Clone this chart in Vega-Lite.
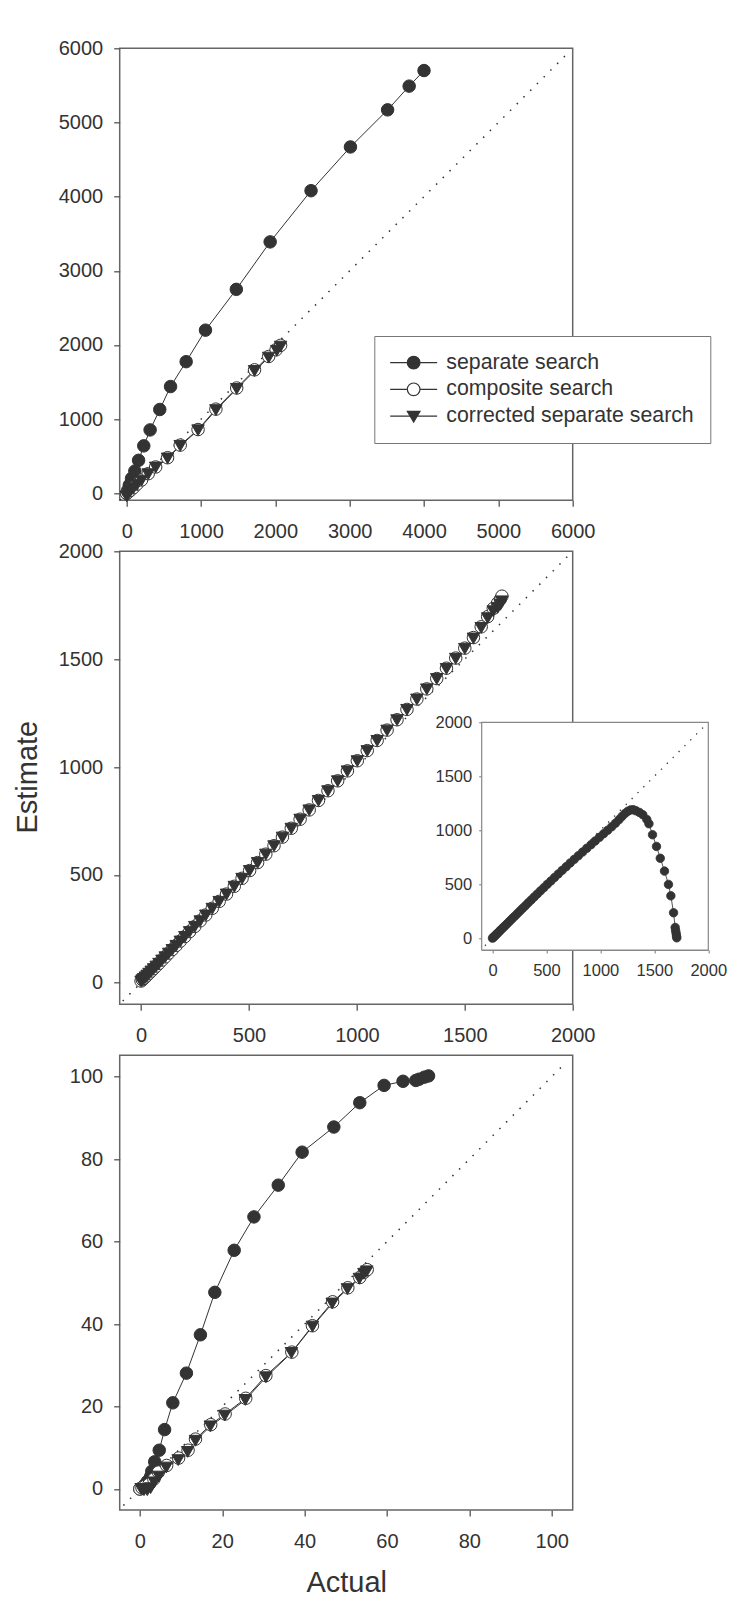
{
  "$schema": "https://vega.github.io/schema/vega-lite/v6.json",
  "autosize": {"type": "none"},
  "padding": {"left": 119.7, "top": 48.3, "right": 630.3, "bottom": 1561.7},
  "bounds": "flush",
  "spacing": 51,
  "datasets": {
    "fps": [
      {"series": "separate search", "actual": 0, "estimate": 0},
      {"series": "separate search", "actual": 15, "estimate": 40},
      {"series": "separate search", "actual": 35, "estimate": 110},
      {"series": "separate search", "actual": 65, "estimate": 200},
      {"series": "separate search", "actual": 110, "estimate": 300},
      {"series": "separate search", "actual": 160, "estimate": 445},
      {"series": "separate search", "actual": 230, "estimate": 640},
      {"series": "separate search", "actual": 315, "estimate": 855},
      {"series": "separate search", "actual": 445, "estimate": 1130},
      {"series": "separate search", "actual": 590, "estimate": 1440},
      {"series": "separate search", "actual": 800, "estimate": 1775},
      {"series": "separate search", "actual": 1060, "estimate": 2200},
      {"series": "separate search", "actual": 1475, "estimate": 2750},
      {"series": "separate search", "actual": 1930, "estimate": 3390},
      {"series": "separate search", "actual": 2480, "estimate": 4080},
      {"series": "separate search", "actual": 3010, "estimate": 4670},
      {"series": "separate search", "actual": 3510, "estimate": 5170},
      {"series": "separate search", "actual": 3800, "estimate": 5490},
      {"series": "separate search", "actual": 4000, "estimate": 5700},
      {"series": "composite search", "actual": 0, "estimate": 0},
      {"series": "composite search", "actual": 20, "estimate": 15},
      {"series": "composite search", "actual": 50, "estimate": 40},
      {"series": "composite search", "actual": 90, "estimate": 75},
      {"series": "composite search", "actual": 140, "estimate": 125},
      {"series": "composite search", "actual": 200, "estimate": 180},
      {"series": "composite search", "actual": 290, "estimate": 265},
      {"series": "composite search", "actual": 390, "estimate": 355},
      {"series": "composite search", "actual": 550, "estimate": 480},
      {"series": "composite search", "actual": 720, "estimate": 650},
      {"series": "composite search", "actual": 960, "estimate": 860},
      {"series": "composite search", "actual": 1200, "estimate": 1135},
      {"series": "composite search", "actual": 1480, "estimate": 1420},
      {"series": "composite search", "actual": 1720, "estimate": 1665},
      {"series": "composite search", "actual": 1910, "estimate": 1845},
      {"series": "composite search", "actual": 2010, "estimate": 1935},
      {"series": "composite search", "actual": 2070, "estimate": 1995},
      {"series": "corrected separate search", "actual": 0, "estimate": -40},
      {"series": "corrected separate search", "actual": 20, "estimate": 0},
      {"series": "corrected separate search", "actual": 50, "estimate": 30},
      {"series": "corrected separate search", "actual": 90, "estimate": 65},
      {"series": "corrected separate search", "actual": 140, "estimate": 115},
      {"series": "corrected separate search", "actual": 200, "estimate": 172},
      {"series": "corrected separate search", "actual": 290, "estimate": 258},
      {"series": "corrected separate search", "actual": 390, "estimate": 348},
      {"series": "corrected separate search", "actual": 550, "estimate": 470},
      {"series": "corrected separate search", "actual": 720, "estimate": 640},
      {"series": "corrected separate search", "actual": 960, "estimate": 850},
      {"series": "corrected separate search", "actual": 1200, "estimate": 1122},
      {"series": "corrected separate search", "actual": 1480, "estimate": 1408},
      {"series": "corrected separate search", "actual": 1720, "estimate": 1650},
      {"series": "corrected separate search", "actual": 1910, "estimate": 1830},
      {"series": "corrected separate search", "actual": 2020, "estimate": 1922},
      {"series": "corrected separate search", "actual": 2070, "estimate": 1978}
    ],
    "tps": [
      {"series": "composite search", "actual": 0, "estimate": 8},
      {"series": "composite search", "actual": 6, "estimate": 14},
      {"series": "composite search", "actual": 12, "estimate": 20},
      {"series": "composite search", "actual": 20, "estimate": 27},
      {"series": "composite search", "actual": 28, "estimate": 35},
      {"series": "composite search", "actual": 37, "estimate": 44},
      {"series": "composite search", "actual": 47, "estimate": 54},
      {"series": "composite search", "actual": 58, "estimate": 65},
      {"series": "composite search", "actual": 70, "estimate": 77},
      {"series": "composite search", "actual": 83, "estimate": 90},
      {"series": "composite search", "actual": 97, "estimate": 105},
      {"series": "composite search", "actual": 112, "estimate": 120},
      {"series": "composite search", "actual": 128, "estimate": 137},
      {"series": "composite search", "actual": 145, "estimate": 154},
      {"series": "composite search", "actual": 163, "estimate": 173},
      {"series": "composite search", "actual": 182, "estimate": 193},
      {"series": "composite search", "actual": 203, "estimate": 214},
      {"series": "composite search", "actual": 225, "estimate": 237},
      {"series": "composite search", "actual": 249, "estimate": 261},
      {"series": "composite search", "actual": 274, "estimate": 287},
      {"series": "composite search", "actual": 300, "estimate": 314},
      {"series": "composite search", "actual": 330, "estimate": 345},
      {"series": "composite search", "actual": 362, "estimate": 377},
      {"series": "composite search", "actual": 396, "estimate": 411},
      {"series": "composite search", "actual": 432, "estimate": 447},
      {"series": "composite search", "actual": 468, "estimate": 484},
      {"series": "composite search", "actual": 503, "estimate": 520},
      {"series": "composite search", "actual": 540, "estimate": 557},
      {"series": "composite search", "actual": 578, "estimate": 596},
      {"series": "composite search", "actual": 616, "estimate": 635},
      {"series": "composite search", "actual": 655, "estimate": 675},
      {"series": "composite search", "actual": 696, "estimate": 716},
      {"series": "composite search", "actual": 737, "estimate": 758},
      {"series": "composite search", "actual": 779, "estimate": 801},
      {"series": "composite search", "actual": 822, "estimate": 845},
      {"series": "composite search", "actual": 866, "estimate": 890},
      {"series": "composite search", "actual": 911, "estimate": 936},
      {"series": "composite search", "actual": 956, "estimate": 982},
      {"series": "composite search", "actual": 1002, "estimate": 1029},
      {"series": "composite search", "actual": 1048, "estimate": 1076},
      {"series": "composite search", "actual": 1094, "estimate": 1123},
      {"series": "composite search", "actual": 1140, "estimate": 1171},
      {"series": "composite search", "actual": 1186, "estimate": 1219},
      {"series": "composite search", "actual": 1232, "estimate": 1267},
      {"series": "composite search", "actual": 1278, "estimate": 1315},
      {"series": "composite search", "actual": 1324, "estimate": 1362},
      {"series": "composite search", "actual": 1370, "estimate": 1410},
      {"series": "composite search", "actual": 1415, "estimate": 1458},
      {"series": "composite search", "actual": 1458, "estimate": 1505},
      {"series": "composite search", "actual": 1500, "estimate": 1551},
      {"series": "composite search", "actual": 1540, "estimate": 1600},
      {"series": "composite search", "actual": 1576, "estimate": 1650},
      {"series": "composite search", "actual": 1606, "estimate": 1697},
      {"series": "composite search", "actual": 1632, "estimate": 1735},
      {"series": "composite search", "actual": 1652, "estimate": 1760},
      {"series": "composite search", "actual": 1665, "estimate": 1778},
      {"series": "composite search", "actual": 1672, "estimate": 1792},
      {"series": "corrected separate search", "actual": 0, "estimate": 6},
      {"series": "corrected separate search", "actual": 6, "estimate": 12},
      {"series": "corrected separate search", "actual": 12, "estimate": 18},
      {"series": "corrected separate search", "actual": 20, "estimate": 25},
      {"series": "corrected separate search", "actual": 28, "estimate": 33},
      {"series": "corrected separate search", "actual": 37, "estimate": 42},
      {"series": "corrected separate search", "actual": 47, "estimate": 52},
      {"series": "corrected separate search", "actual": 58, "estimate": 63},
      {"series": "corrected separate search", "actual": 70, "estimate": 75},
      {"series": "corrected separate search", "actual": 83, "estimate": 88},
      {"series": "corrected separate search", "actual": 97, "estimate": 103},
      {"series": "corrected separate search", "actual": 112, "estimate": 118},
      {"series": "corrected separate search", "actual": 128, "estimate": 135},
      {"series": "corrected separate search", "actual": 145, "estimate": 152},
      {"series": "corrected separate search", "actual": 163, "estimate": 171},
      {"series": "corrected separate search", "actual": 182, "estimate": 191},
      {"series": "corrected separate search", "actual": 203, "estimate": 212},
      {"series": "corrected separate search", "actual": 225, "estimate": 235},
      {"series": "corrected separate search", "actual": 249, "estimate": 259},
      {"series": "corrected separate search", "actual": 274, "estimate": 285},
      {"series": "corrected separate search", "actual": 300, "estimate": 312},
      {"series": "corrected separate search", "actual": 330, "estimate": 343},
      {"series": "corrected separate search", "actual": 362, "estimate": 375},
      {"series": "corrected separate search", "actual": 396, "estimate": 409},
      {"series": "corrected separate search", "actual": 432, "estimate": 445},
      {"series": "corrected separate search", "actual": 468, "estimate": 482},
      {"series": "corrected separate search", "actual": 503, "estimate": 518},
      {"series": "corrected separate search", "actual": 540, "estimate": 555},
      {"series": "corrected separate search", "actual": 578, "estimate": 594},
      {"series": "corrected separate search", "actual": 616, "estimate": 633},
      {"series": "corrected separate search", "actual": 655, "estimate": 673},
      {"series": "corrected separate search", "actual": 696, "estimate": 714},
      {"series": "corrected separate search", "actual": 737, "estimate": 756},
      {"series": "corrected separate search", "actual": 779, "estimate": 799},
      {"series": "corrected separate search", "actual": 822, "estimate": 843},
      {"series": "corrected separate search", "actual": 866, "estimate": 888},
      {"series": "corrected separate search", "actual": 911, "estimate": 934},
      {"series": "corrected separate search", "actual": 956, "estimate": 980},
      {"series": "corrected separate search", "actual": 1002, "estimate": 1027},
      {"series": "corrected separate search", "actual": 1048, "estimate": 1074},
      {"series": "corrected separate search", "actual": 1094, "estimate": 1121},
      {"series": "corrected separate search", "actual": 1140, "estimate": 1169},
      {"series": "corrected separate search", "actual": 1186, "estimate": 1217},
      {"series": "corrected separate search", "actual": 1232, "estimate": 1265},
      {"series": "corrected separate search", "actual": 1278, "estimate": 1313},
      {"series": "corrected separate search", "actual": 1324, "estimate": 1360},
      {"series": "corrected separate search", "actual": 1370, "estimate": 1408},
      {"series": "corrected separate search", "actual": 1415, "estimate": 1455},
      {"series": "corrected separate search", "actual": 1458, "estimate": 1502},
      {"series": "corrected separate search", "actual": 1500, "estimate": 1548},
      {"series": "corrected separate search", "actual": 1540, "estimate": 1596},
      {"series": "corrected separate search", "actual": 1576, "estimate": 1645},
      {"series": "corrected separate search", "actual": 1606, "estimate": 1690},
      {"series": "corrected separate search", "actual": 1632, "estimate": 1722},
      {"series": "corrected separate search", "actual": 1652, "estimate": 1738},
      {"series": "corrected separate search", "actual": 1665, "estimate": 1752},
      {"series": "corrected separate search", "actual": 1672, "estimate": 1768}
    ],
    "tpsInset": [
      {"series": "separate search", "actual": 0, "estimate": 0},
      {"series": "separate search", "actual": 8, "estimate": 8},
      {"series": "separate search", "actual": 16, "estimate": 15},
      {"series": "separate search", "actual": 25, "estimate": 24},
      {"series": "separate search", "actual": 35, "estimate": 34},
      {"series": "separate search", "actual": 46, "estimate": 45},
      {"series": "separate search", "actual": 58, "estimate": 57},
      {"series": "separate search", "actual": 71, "estimate": 70},
      {"series": "separate search", "actual": 85, "estimate": 84},
      {"series": "separate search", "actual": 100, "estimate": 99},
      {"series": "separate search", "actual": 116, "estimate": 114},
      {"series": "separate search", "actual": 133, "estimate": 131},
      {"series": "separate search", "actual": 151, "estimate": 149},
      {"series": "separate search", "actual": 170, "estimate": 168},
      {"series": "separate search", "actual": 190, "estimate": 188},
      {"series": "separate search", "actual": 211, "estimate": 208},
      {"series": "separate search", "actual": 233, "estimate": 230},
      {"series": "separate search", "actual": 256, "estimate": 253},
      {"series": "separate search", "actual": 280, "estimate": 277},
      {"series": "separate search", "actual": 305, "estimate": 301},
      {"series": "separate search", "actual": 331, "estimate": 327},
      {"series": "separate search", "actual": 358, "estimate": 353},
      {"series": "separate search", "actual": 386, "estimate": 381},
      {"series": "separate search", "actual": 415, "estimate": 409},
      {"series": "separate search", "actual": 445, "estimate": 438},
      {"series": "separate search", "actual": 476, "estimate": 468},
      {"series": "separate search", "actual": 508, "estimate": 499},
      {"series": "separate search", "actual": 541, "estimate": 530},
      {"series": "separate search", "actual": 575, "estimate": 562},
      {"series": "separate search", "actual": 610, "estimate": 595},
      {"series": "separate search", "actual": 646, "estimate": 628},
      {"series": "separate search", "actual": 683, "estimate": 662},
      {"series": "separate search", "actual": 720, "estimate": 696},
      {"series": "separate search", "actual": 758, "estimate": 730},
      {"series": "separate search", "actual": 796, "estimate": 764},
      {"series": "separate search", "actual": 835, "estimate": 798},
      {"series": "separate search", "actual": 874, "estimate": 832},
      {"series": "separate search", "actual": 913, "estimate": 866},
      {"series": "separate search", "actual": 952, "estimate": 900},
      {"series": "separate search", "actual": 991, "estimate": 934},
      {"series": "separate search", "actual": 1030, "estimate": 967},
      {"series": "separate search", "actual": 1068, "estimate": 1000},
      {"series": "separate search", "actual": 1105, "estimate": 1032},
      {"series": "separate search", "actual": 1140, "estimate": 1065},
      {"series": "separate search", "actual": 1172, "estimate": 1098},
      {"series": "separate search", "actual": 1200, "estimate": 1128},
      {"series": "separate search", "actual": 1228, "estimate": 1155},
      {"series": "separate search", "actual": 1255, "estimate": 1176},
      {"series": "separate search", "actual": 1280, "estimate": 1188},
      {"series": "separate search", "actual": 1305, "estimate": 1190},
      {"series": "separate search", "actual": 1330, "estimate": 1180},
      {"series": "separate search", "actual": 1362, "estimate": 1165},
      {"series": "separate search", "actual": 1393, "estimate": 1144},
      {"series": "separate search", "actual": 1430, "estimate": 1100},
      {"series": "separate search", "actual": 1450, "estimate": 1060},
      {"series": "separate search", "actual": 1483, "estimate": 958},
      {"series": "separate search", "actual": 1520, "estimate": 850},
      {"series": "separate search", "actual": 1555, "estimate": 740},
      {"series": "separate search", "actual": 1594, "estimate": 621},
      {"series": "separate search", "actual": 1631, "estimate": 498},
      {"series": "separate search", "actual": 1653, "estimate": 392},
      {"series": "separate search", "actual": 1678, "estimate": 235},
      {"series": "separate search", "actual": 1693, "estimate": 99},
      {"series": "separate search", "actual": 1697, "estimate": 70},
      {"series": "separate search", "actual": 1702, "estimate": 44},
      {"series": "separate search", "actual": 1705, "estimate": 20},
      {"series": "separate search", "actual": 1708, "estimate": 3}
    ],
    "fdr": [
      {"series": "separate search", "actual": 0, "estimate": 0},
      {"series": "separate search", "actual": 0.6, "estimate": 0.4},
      {"series": "separate search", "actual": 1.2, "estimate": 1.0},
      {"series": "separate search", "actual": 1.8, "estimate": 1.8},
      {"series": "separate search", "actual": 2.6, "estimate": 3.0},
      {"series": "separate search", "actual": 2.9, "estimate": 4.3},
      {"series": "separate search", "actual": 3.6, "estimate": 6.6},
      {"series": "separate search", "actual": 4.7, "estimate": 9.4},
      {"series": "separate search", "actual": 6.0, "estimate": 14.4},
      {"series": "separate search", "actual": 8.0, "estimate": 20.9},
      {"series": "separate search", "actual": 11.3, "estimate": 28.1},
      {"series": "separate search", "actual": 14.7, "estimate": 37.4},
      {"series": "separate search", "actual": 18.2, "estimate": 47.7},
      {"series": "separate search", "actual": 22.9, "estimate": 57.9},
      {"series": "separate search", "actual": 27.7, "estimate": 66.0},
      {"series": "separate search", "actual": 33.6, "estimate": 73.7},
      {"series": "separate search", "actual": 39.4, "estimate": 81.7},
      {"series": "separate search", "actual": 47.1, "estimate": 87.8},
      {"series": "separate search", "actual": 53.4, "estimate": 93.7},
      {"series": "separate search", "actual": 59.3, "estimate": 97.9},
      {"series": "separate search", "actual": 63.9, "estimate": 98.9},
      {"series": "separate search", "actual": 67.0, "estimate": 99.1},
      {"series": "separate search", "actual": 67.8, "estimate": 99.4},
      {"series": "separate search", "actual": 69.1, "estimate": 99.9},
      {"series": "separate search", "actual": 70.1, "estimate": 100.2},
      {"series": "composite search", "actual": 0, "estimate": 0},
      {"series": "composite search", "actual": 0.5, "estimate": 0.3},
      {"series": "composite search", "actual": 1.2, "estimate": 0.6},
      {"series": "composite search", "actual": 2.2, "estimate": 1.1},
      {"series": "composite search", "actual": 3.4, "estimate": 2.4},
      {"series": "composite search", "actual": 4.5, "estimate": 4.1},
      {"series": "composite search", "actual": 6.5, "estimate": 5.7},
      {"series": "composite search", "actual": 9.4, "estimate": 7.5},
      {"series": "composite search", "actual": 11.7, "estimate": 9.4},
      {"series": "composite search", "actual": 13.5, "estimate": 12.1},
      {"series": "composite search", "actual": 17.2, "estimate": 15.6},
      {"series": "composite search", "actual": 20.7, "estimate": 18.2},
      {"series": "composite search", "actual": 25.7, "estimate": 22.0},
      {"series": "composite search", "actual": 30.6, "estimate": 27.5},
      {"series": "composite search", "actual": 36.9, "estimate": 33.2},
      {"series": "composite search", "actual": 41.9, "estimate": 39.6},
      {"series": "composite search", "actual": 46.8, "estimate": 45.4},
      {"series": "composite search", "actual": 50.5, "estimate": 48.8},
      {"series": "composite search", "actual": 53.4, "estimate": 51.3},
      {"series": "composite search", "actual": 54.5, "estimate": 52.6},
      {"series": "composite search", "actual": 55.2, "estimate": 53.2},
      {"series": "corrected separate search", "actual": 0.3, "estimate": 0},
      {"series": "corrected separate search", "actual": 1.0, "estimate": -0.3},
      {"series": "corrected separate search", "actual": 1.8, "estimate": -0.3},
      {"series": "corrected separate search", "actual": 2.6, "estimate": 0.2},
      {"series": "corrected separate search", "actual": 3.5, "estimate": 1.6},
      {"series": "corrected separate search", "actual": 4.6, "estimate": 3.0},
      {"series": "corrected separate search", "actual": 6.4, "estimate": 5.2},
      {"series": "corrected separate search", "actual": 9.3, "estimate": 7.0},
      {"series": "corrected separate search", "actual": 11.6, "estimate": 9.0},
      {"series": "corrected separate search", "actual": 13.5, "estimate": 11.7},
      {"series": "corrected separate search", "actual": 17.1, "estimate": 15.2},
      {"series": "corrected separate search", "actual": 20.6, "estimate": 17.8},
      {"series": "corrected separate search", "actual": 25.6, "estimate": 21.6},
      {"series": "corrected separate search", "actual": 30.6, "estimate": 27.1},
      {"series": "corrected separate search", "actual": 36.8, "estimate": 33.0},
      {"series": "corrected separate search", "actual": 41.9, "estimate": 39.4},
      {"series": "corrected separate search", "actual": 46.7, "estimate": 45.0},
      {"series": "corrected separate search", "actual": 50.4, "estimate": 48.5},
      {"series": "corrected separate search", "actual": 53.3, "estimate": 51.0},
      {"series": "corrected separate search", "actual": 54.4, "estimate": 52.2},
      {"series": "corrected separate search", "actual": 55.1, "estimate": 52.8}
    ],
    "d1": [{"actual": -90, "estimate": -90}, {"actual": 5950, "estimate": 5950}],
    "d2": [{"actual": -85, "estimate": -85}, {"actual": 1975, "estimate": 1975}],
    "d3": [{"actual": -4, "estimate": -4}, {"actual": 103.5, "estimate": 103.5}],
    "dI": [{"actual": -70, "estimate": -70}, {"actual": 1990, "estimate": 1990}]
  },
  "vconcat": [
    {
      "width": 453,
      "height": 452,
      "resolve": {"scale": {"shape": "independent", "fill": "independent", "stroke": "independent"}},
      "encoding": {
        "x": {"field": "actual", "type": "quantitative", "scale": {"domain": [-94, 6000], "nice": false, "zero": false}, "axis": {"values": [0, 1000, 2000, 3000, 4000, 5000, 6000], "format": "d", "title": null, "labelPadding": 15}},
        "y": {"field": "estimate", "type": "quantitative", "scale": {"domain": [-94, 6000], "nice": false, "zero": false}, "axis": {"values": [0, 1000, 2000, 3000, 4000, 5000, 6000], "format": "d", "title": null, "labelPadding": 11}}
      },
      "layer": [
        {"data": {"name": "d1"}, "mark": {"type": "line", "color": "#333", "strokeWidth": 1.5, "strokeDash": [1.5, 8]}},
        {"data": {"name": "fps"}, "mark": {"type": "line", "color": "#333", "strokeWidth": 1}, "encoding": {"detail": {"field": "series"}}},
        {
          "data": {"name": "fps"},
          "mark": {"type": "point", "filled": true, "size": 156, "stroke": "#333", "strokeWidth": 1, "opacity": 1},
          "encoding": {
            "shape": {"field": "series", "type": "nominal", "scale": {"domain": ["separate search", "composite search", "corrected separate search"], "range": ["circle", "circle", "triangle-down"]}, "legend": null},
            "fill": {"field": "series", "type": "nominal", "scale": {"domain": ["separate search", "composite search", "corrected separate search"], "range": ["#333333", "#ffffff", "#333333"]}, "legend": null}
          }
        },
        {
          "data": {"values": []},
          "mark": {"type": "point", "filled": true, "size": 161, "strokeWidth": 1.2, "opacity": 1},
          "encoding": {
            "shape": {"field": "series", "type": "nominal", "scale": {"domain": ["separate search", "composite search", "corrected separate search"], "range": ["M-3.7,0L3.7,0M1,0A1,1,0,1,1,-1,0A1,1,0,1,1,1,0Z", "M-3.7,0L-1,0M1,0L3.7,0M1,0A1,1,0,1,1,-1,0A1,1,0,1,1,1,0Z", "M-3.7,0L3.7,0M-1,-0.75L1,-0.75L0,0.95Z"]},
              "legend": {"title": null, "orient": "none", "legendX": 254.6, "legendY": 287.7, "strokeColor": "#777", "fillColor": "#fff", "padding": 16, "labelFontSize": 21.3, "labelLimit": 400, "labelColor": "#333", "symbolSize": 161, "rowPadding": 4.7, "symbolOffset": 12.7, "labelOffset": 22, "symbolStrokeWidth": 1.2}},
            "fill": {"field": "series", "type": "nominal", "scale": {"domain": ["separate search", "composite search", "corrected separate search"], "range": ["#333333", "#ffffff", "#333333"]},
              "legend": {"title": null, "orient": "none", "legendX": 254.6, "legendY": 287.7, "strokeColor": "#777", "fillColor": "#fff", "padding": 16, "labelFontSize": 21.3, "labelLimit": 400, "labelColor": "#333", "symbolSize": 161, "rowPadding": 4.7, "symbolOffset": 12.7, "labelOffset": 22, "symbolStrokeWidth": 1.2}},
            "stroke": {"field": "series", "type": "nominal", "scale": {"domain": ["separate search", "composite search", "corrected separate search"], "range": ["#333333", "#333333", "#333333"]},
              "legend": {"title": null, "orient": "none", "legendX": 254.6, "legendY": 287.7, "strokeColor": "#777", "fillColor": "#fff", "padding": 16, "labelFontSize": 21.3, "labelLimit": 400, "labelColor": "#333", "symbolSize": 161, "rowPadding": 4.7, "symbolOffset": 12.7, "labelOffset": 22, "symbolStrokeWidth": 1.2}}
          }
        },
        {
          "data": {"values": [{"label": "FPs"}]},
          "mark": {"type": "text", "align": "left", "baseline": "alphabetic", "fontSize": 29, "color": "#333"},
          "encoding": {
            "x": {"datum": 404, "type": "quantitative"},
            "y": {"datum": 5340, "type": "quantitative"},
            "text": {"field": "label"}
          }
        }
      ]
    },
    {
      "width": 453,
      "height": 453,
      "resolve": {"scale": {"x": "independent", "y": "independent"}},
      "layer": [
        {
          "encoding": {
            "x": {"field": "actual", "type": "quantitative", "scale": {"domain": [-99, 2000], "nice": false, "zero": false}, "axis": {"orient": "bottom", "values": [0, 500, 1000, 1500, 2000], "format": "d", "title": null, "labelPadding": 15}},
            "y": {"field": "estimate", "type": "quantitative", "scale": {"domain": [-100, 2000], "nice": false, "zero": false}, "axis": {"orient": "left", "values": [0, 500, 1000, 1500, 2000], "format": "d", "title": "Estimate", "labelPadding": 11, "titleX": -83.7, "titleY": 225.4, "titleAngle": 270, "titleBaseline": "alphabetic", "titleAlign": "center"}}
          },
          "layer": [
            {"data": {"name": "d2"}, "mark": {"type": "line", "color": "#333", "strokeWidth": 1.5, "strokeDash": [1.5, 8]}},
            {"data": {"name": "tps"}, "mark": {"type": "line", "color": "#333", "strokeWidth": 1}, "encoding": {"detail": {"field": "series"}}},
            {
              "data": {"name": "tps"},
              "mark": {"type": "point", "filled": true, "size": 156, "stroke": "#333", "strokeWidth": 1, "opacity": 1},
              "encoding": {
                "shape": {"field": "series", "type": "nominal", "scale": {"domain": ["separate search", "composite search", "corrected separate search"], "range": ["circle", "circle", "triangle-down"]}, "legend": null},
                "fill": {"field": "series", "type": "nominal", "scale": {"domain": ["separate search", "composite search", "corrected separate search"], "range": ["#333333", "#ffffff", "#333333"]}, "legend": null},
                "size": {"field": "series", "type": "nominal", "scale": {"domain": ["separate search", "composite search", "corrected separate search"], "range": [156, 156, 185]}, "legend": null}
              }
            },
            {
              "data": {"values": [{"label": "TPs"}]},
              "mark": {"type": "text", "align": "left", "baseline": "alphabetic", "fontSize": 29, "color": "#333"},
              "encoding": {
                "x": {"datum": 77, "type": "quantitative"},
                "y": {"datum": 1773, "type": "quantitative"},
                "text": {"field": "label"}
              }
            }
          ]
        },
        {
          "encoding": {
            "x": {"field": "actual", "type": "quantitative", "scale": {"domain": [-100, 2000], "range": [362, 588.6], "nice": false, "zero": false}, "axis": {"orient": "bottom", "offset": -54.3, "values": [0, 500, 1000, 1500, 2000], "format": "d", "title": null, "labelPadding": 9, "tickSize": 3, "labelFontSize": 16.5, "tickColor": "#777", "tickWidth": 1, "domain": true, "domainColor": "#888", "domainWidth": 1.2}},
            "y": {"field": "estimate", "type": "quantitative", "scale": {"domain": [-110, 2000], "range": [398.7, 171], "nice": false, "zero": false}, "axis": {"orient": "left", "offset": -362, "values": [0, 500, 1000, 1500, 2000], "format": "d", "title": null, "labelPadding": 7, "tickSize": 3, "labelFontSize": 16.5, "tickColor": "#777", "tickWidth": 1, "domain": true, "domainColor": "#888", "domainWidth": 1.2, "grid": true, "gridColor": "#888", "gridWidth": 1.2, "gridOpacity": {"condition": {"test": "datum.value === 2000", "value": 1}, "value": 0}}}
          },
          "layer": [
            {
              "data": {"name": "tpsInset"},
              "transform": [{"filter": "datum.actual === 0"}],
              "mark": {"type": "point", "shape": "M-1,-1.0049L1,-1.0049L1,1.0049L-1,1.0049Z", "size": 51348, "filled": true, "fill": "#ffffff", "stroke": "#888888", "strokeWidth": 1.2, "opacity": 1},
              "encoding": {
                "x": {"datum": 950, "type": "quantitative"},
                "y": {"datum": 945, "type": "quantitative"}
              }
            },
            {"data": {"name": "dI"}, "mark": {"type": "line", "color": "#333", "strokeWidth": 1.3, "strokeDash": [1.3, 7]}},
            {"data": {"name": "tpsInset"}, "mark": {"type": "line", "color": "#555", "strokeWidth": 1}},
            {
              "data": {"name": "tpsInset"},
              "mark": {"type": "point", "filled": true, "size": 72, "stroke": "#333", "strokeWidth": 0.8, "opacity": 1, "fill": "#333"}
            }
          ]
        }
      ]
    },
    {
      "width": 453,
      "height": 454.7,
      "encoding": {
        "x": {"field": "actual", "type": "quantitative", "scale": {"domain": [-4.9, 105.1], "nice": false, "zero": false}, "axis": {"values": [0, 20, 40, 60, 80, 100], "format": "d", "title": "Actual", "labelPadding": 15, "titleX": 226.5, "titleY": 81.7, "titleBaseline": "alphabetic", "titleAlign": "center"}},
        "y": {"field": "estimate", "type": "quantitative", "scale": {"domain": [-5.1, 105.2], "nice": false, "zero": false}, "axis": {"values": [0, 20, 40, 60, 80, 100], "format": "d", "title": null, "labelPadding": 11}}
      },
      "layer": [
        {"data": {"name": "d3"}, "mark": {"type": "line", "color": "#333", "strokeWidth": 1.5, "strokeDash": [1.5, 8]}},
        {"data": {"name": "fdr"}, "mark": {"type": "line", "color": "#333", "strokeWidth": 1}, "encoding": {"detail": {"field": "series"}}},
        {
          "data": {"name": "fdr"},
          "mark": {"type": "point", "filled": true, "size": 156, "stroke": "#333", "strokeWidth": 1, "opacity": 1},
          "encoding": {
            "shape": {"field": "series", "type": "nominal", "scale": {"domain": ["separate search", "composite search", "corrected separate search"], "range": ["circle", "circle", "triangle-down"]}, "legend": null},
            "fill": {"field": "series", "type": "nominal", "scale": {"domain": ["separate search", "composite search", "corrected separate search"], "range": ["#333333", "#ffffff", "#333333"]}, "legend": null}
          }
        },
        {
          "data": {"values": [{"label": "FDR (%)"}]},
          "mark": {"type": "text", "align": "left", "baseline": "alphabetic", "fontSize": 29, "color": "#333"},
          "encoding": {
            "x": {"datum": 4.3, "type": "quantitative"},
            "y": {"datum": 92.9, "type": "quantitative"},
            "text": {"field": "label"}
          }
        }
      ]
    }
  ],
  "resolve": {"scale": {"shape": "independent", "fill": "independent", "stroke": "independent", "size": "independent"}, "legend": {"shape": "independent", "fill": "independent", "stroke": "independent", "size": "independent"}},
  "config": {
    "font": "Liberation Sans",
    "view": {"stroke": "#666", "strokeWidth": 1.5},
    "axis": {"grid": false, "domain": false, "ticks": true, "tickColor": "#555", "tickWidth": 1.3, "tickSize": 6, "labelFontSize": 20, "labelColor": "#333", "labelFont": "Liberation Sans", "labelFlush": false, "labelOverlap": false, "titleFont": "Liberation Sans", "titleFontSize": 29, "titleFontWeight": "normal", "titleColor": "#333"},
    "legend": {"labelFont": "Liberation Sans"}
  }
}
